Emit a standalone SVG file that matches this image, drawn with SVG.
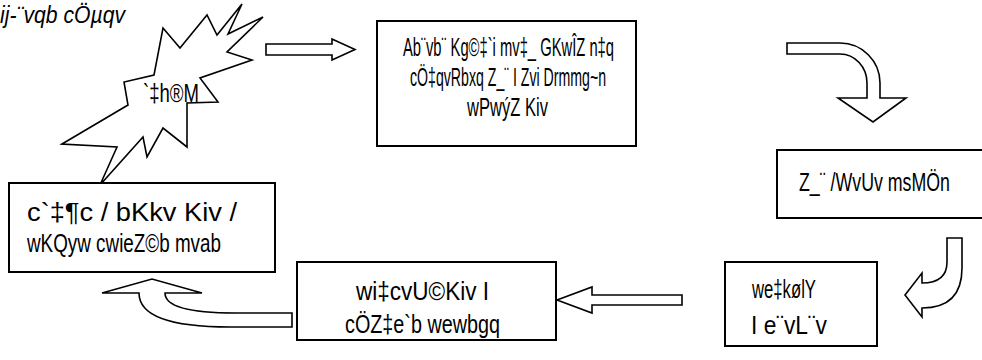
<svg xmlns="http://www.w3.org/2000/svg" width="982" height="360" viewBox="0 0 982 360">
<style>
.box{fill:#fff;stroke:#000;stroke-width:2}
.shp{fill:#fff;stroke:#000;stroke-width:1.6;stroke-linejoin:miter}
.t{font-family:'Liberation Sans Narrow','Liberation Sans',Arial,sans-serif;font-size:26px;fill:#000}
.it{font-style:italic;font-size:24px}
</style>
<rect width="982" height="360" fill="#fff"/>
<text class="t it" x="0" y="23" textLength="125" lengthAdjust="spacingAndGlyphs">ij-¨vqb cÖµqv</text>
<g id="burst">
<polygon class="shp" points="62,144 128,105 124,82 154,75 163,28 180,48 207,15 217,35 242,4 228,34 263,17 227,52 252,60 200,78 218,102 187,103 187,147 163,128 147,157 143,137 100,185 117,147"/>
<text class="t" x="143" y="102" textLength="56" lengthAdjust="spacingAndGlyphs">`‡h®M</text>
</g>
<g id="box1">
<rect class="box" x="377" y="21" width="259" height="125"/>
<text class="t" x="403" y="56" textLength="211" lengthAdjust="spacingAndGlyphs">Ab¨vb¨ Kg©‡`i mv‡_ GKwÎZ n‡q</text>
<text class="t" x="410" y="86" textLength="196" lengthAdjust="spacingAndGlyphs">cÖ‡qvRbxq Z_¨ I Zvi Drmmg~n</text>
<text class="t" x="467" y="116" textLength="81" lengthAdjust="spacingAndGlyphs">wPwýZ Kiv</text>
</g>
<g id="box2">
<rect class="box" x="777" y="150" width="210" height="68"/>
<text class="t" x="799" y="191" textLength="151" lengthAdjust="spacingAndGlyphs">Z_¨ /WvUv msMÖn</text>
</g>
<g id="box3">
<rect class="box" x="725" y="262" width="152" height="84"/>
<text class="t" x="752" y="298" textLength="64" lengthAdjust="spacingAndGlyphs">we‡kølY</text>
<text class="t" x="751" y="334" textLength="76" lengthAdjust="spacingAndGlyphs">I e¨vL¨v</text>
</g>
<g id="box4">
<rect class="box" x="297" y="262" width="259" height="78"/>
<text class="t" x="356" y="300" textLength="133" lengthAdjust="spacingAndGlyphs">wi‡cvU©Kiv I</text>
<text class="t" x="345" y="333" textLength="155" lengthAdjust="spacingAndGlyphs">cÖZ‡e`b wewbgq</text>
</g>
<g id="box5">
<rect class="box" x="9" y="183" width="266" height="89"/>
<text class="t" x="27" y="221" textLength="210" lengthAdjust="spacingAndGlyphs">c`‡¶c / bKkv Kiv /</text>
<text class="t" x="27" y="252" textLength="194" lengthAdjust="spacingAndGlyphs">wKQyw cwieZ©b mvab</text>
</g>
<g id="connectors">
<polygon class="shp" points="266,44 332,44 332,39 355,49.5 332,60 332,55 266,55"/>
<path class="shp" d="M787,43 L840,43 A40,40 0 0 1 880,83 L880,98 L906,98 L873,122 L838,98 L867,98 L867,83 A27,29 0 0 0 840,54 L787,54 Z"/>
<path class="shp" d="M947,238 L962,238 L962,268 Q962,308 922,308 L922,317 L905,295 L922,273 L922,283 Q947,283 947,262 Z"/>
<polygon class="shp" points="682,295 592,295 592,287 557,300 592,313 592,305 682,305"/>
<path class="shp" d="M102,293 L152,279 L202,293 L165,293 Q165,313 235,313 L292,313 L292,327 L230,327 Q139,327 139,293 Z"/>
</g>
</svg>
